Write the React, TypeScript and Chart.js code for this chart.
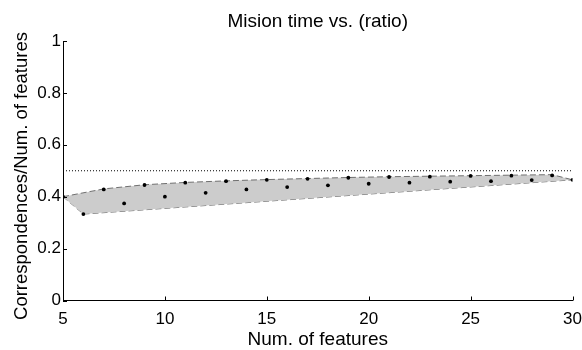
import React, { useEffect, useRef } from "react";
import { Chart, registerables } from "chart.js";

Chart.register(...registerables);

const FONT = "'Liberation Sans', Arial, Helvetica, sans-serif";

const TITLE = "Mision time vs. (ratio)";
const X_LABEL = "Num. of features";
const Y_LABEL = "Correspondences/Num. of features";

// measured points (num. of features -> ratio)
const featureCounts = [5, 6, 7, 8, 9, 10, 11, 12, 13, 14, 15, 16, 17, 18, 19, 20, 21, 22, 23, 24, 25, 26, 27, 28, 29, 30];
const ratios = [0.4, 0.333, 0.428, 0.374, 0.445, 0.4, 0.454, 0.415, 0.46, 0.428, 0.465, 0.437, 0.469, 0.444, 0.473, 0.45, 0.476, 0.454, 0.477, 0.458, 0.48, 0.46, 0.481, 0.464, 0.482, 0.465];

// shaded band boundaries
const upperX = [5, 7, 9, 11, 13, 15, 17, 19, 21, 23, 25, 27, 29, 30];
const upperY = [0.4, 0.43, 0.446, 0.455, 0.461, 0.466, 0.47, 0.474, 0.477, 0.479, 0.481, 0.483, 0.485, 0.465];
const lowerX = [5, 6, 30];
const lowerY = [0.4, 0.333, 0.465];

// reference level
const refX = [5, 30];
const refY = [0.5, 0.5];

const xTicks = [5, 10, 15, 20, 25, 30];
const yTicks = [0, 0.2, 0.4, 0.6, 0.8, 1];

const zip = (xs: number[], ys: number[]) => xs.map((x, i) => ({ x, y: ys[i] }));

const decorPlugin = {
  id: "decor",
  afterDraw(chart: any) {
    const { ctx, chartArea } = chart;
    const xs = chart.scales.x;
    const ys = chart.scales.y;
    ctx.save();
    ctx.fillStyle = "#000";
    ctx.strokeStyle = "#000";
    ctx.lineWidth = 1;
    // inward ticks
    ctx.beginPath();
    xTicks.forEach((t) => {
      const px = Math.round(xs.getPixelForValue(t)) + 0.5;
      ctx.moveTo(px, chartArea.bottom);
      ctx.lineTo(px, chartArea.bottom - 4);
    });
    yTicks.forEach((t) => {
      const py = Math.round(ys.getPixelForValue(t)) + 0.5;
      ctx.moveTo(chartArea.left, py);
      ctx.lineTo(chartArea.left + 4, py);
    });
    ctx.stroke();
    const cx = (chartArea.left + chartArea.right) / 2;
    ctx.textAlign = "center";
    ctx.textBaseline = "alphabetic";
    ctx.font = `19px ${FONT}`;
    ctx.fillText(TITLE, cx, 27);
    ctx.font = `19px ${FONT}`;
    ctx.fillText(X_LABEL, cx, 345);
    ctx.save();
    ctx.translate(26.5, 176);
    ctx.rotate(-Math.PI / 2);
    ctx.font = `18.5px ${FONT}`;
    ctx.fillText(Y_LABEL, 0, 0);
    ctx.restore();
    ctx.restore();
  },
};

export default function App() {
  const ref = useRef<HTMLCanvasElement | null>(null);
  useEffect(() => {
    document.body.style.margin = "0";
    if (!ref.current) return;
    Chart.defaults.font.family = FONT;
    const chart = new Chart(ref.current, {
      type: "line",
      data: {
        datasets: [
          {
            label: "ratio",
            data: zip(featureCounts, ratios),
            showLine: false,
            pointRadius: 1.9,
            pointBorderWidth: 0,
            pointBackgroundColor: "#000",
            borderColor: "#000",
          },
          {
            label: "upper",
            data: zip(upperX, upperY),
            borderColor: "#707070",
            borderWidth: 1,
            borderDash: [6, 3],
            pointRadius: 0,
            fill: "+1",
            backgroundColor: "rgb(204,204,204)",
          },
          {
            label: "lower",
            data: zip(lowerX, lowerY),
            borderColor: "#707070",
            borderWidth: 1,
            borderDash: [6, 3],
            pointRadius: 0,
            fill: false,
          },
          {
            label: "ref",
            data: zip(refX, refY),
            borderColor: "#000",
            borderWidth: 1,
            borderDash: [1, 2],
            pointRadius: 0,
            fill: false,
          },
        ],
      },
      options: {
        animation: false,
        responsive: false,
        maintainAspectRatio: false,
        layout: { padding: { left: 0, right: 9.5, top: 41, bottom: 0 } },
        plugins: {
          legend: { display: false },
          title: { display: false },
          tooltip: { enabled: false },
        },
        scales: {
          x: {
            type: "linear",
            min: 5,
            max: 30,
            afterFit: (s: any) => {
              s.height = 49.5;
              s.paddingLeft = 0;
              s.paddingRight = 0;
            },
            afterBuildTicks: (s: any) => {
              s.ticks = xTicks.map((v) => ({ value: v }));
            },
            grid: { display: false, drawTicks: false },
            border: { display: true, color: "#000", width: 1 },
            ticks: {
              color: "#000",
              font: { size: 17, family: FONT },
              padding: 9,
              maxRotation: 0,
              autoSkip: false,
            },
          },
          y: {
            type: "linear",
            min: 0,
            max: 1,
            afterFit: (s: any) => {
              s.width = 63;
              s.paddingTop = 0;
              s.paddingBottom = 0;
            },
            afterBuildTicks: (s: any) => {
              s.ticks = yTicks.map((v) => ({ value: v }));
            },
            grid: { display: false, drawTicks: false },
            border: { display: true, color: "#000", width: 1 },
            ticks: {
              color: "#000",
              font: { size: 17, family: FONT },
              padding: 2,
              autoSkip: false,
              callback: (v: any) => String(Math.round(Number(v) * 10) / 10),
            },
          },
        },
      },
      plugins: [decorPlugin],
    });
    return () => chart.destroy();
  }, []);
  return (
    <div style={{ position: "fixed", left: 0, top: 0, width: 582, height: 350, background: "#fff" }}>
      <canvas ref={ref} width={582} height={350} style={{ width: 582, height: 350, display: "block" }} />
    </div>
  );
}
